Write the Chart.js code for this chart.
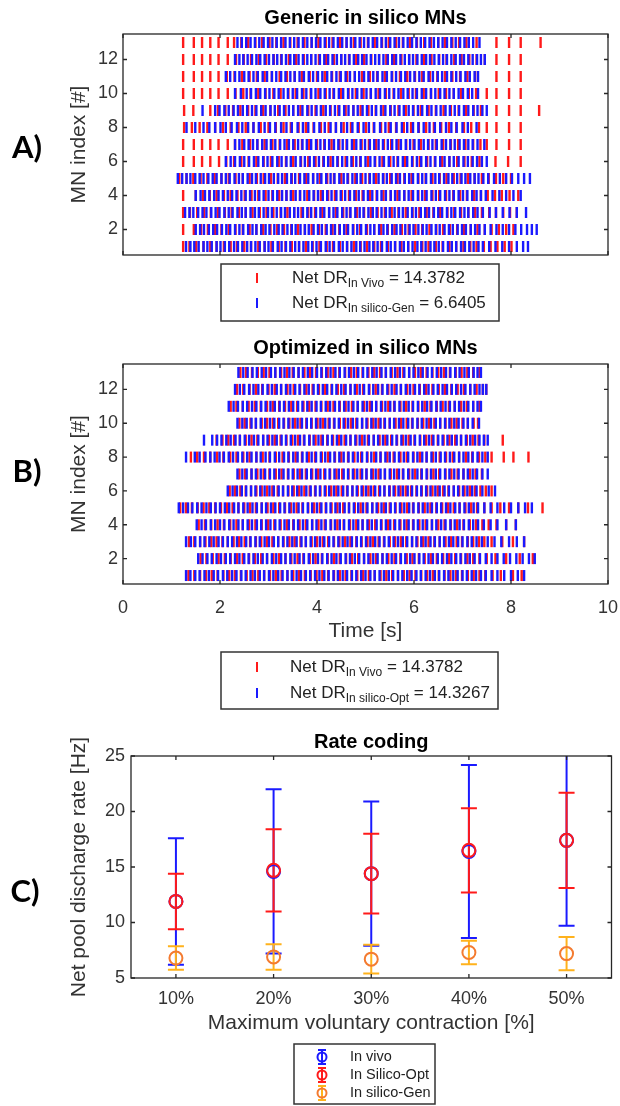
<!DOCTYPE html>
<html lang="en">
<head>
<meta charset="UTF-8">
<title>MN discharge raster and rate coding</title>
<script src="https://cdn.jsdelivr.net/npm/chart.js@4/dist/chart.umd.min.js"></script>
<style>
  body { margin: 0; background: #fff; width: 620px; height: 1106px; position: relative; overflow: hidden; }
  canvas { position: absolute; left: 0; }
</style>
</head>
<body>
<canvas id="chartA" width="620" height="330" style="top:0"></canvas>
<canvas id="chartB" width="620" height="390" style="top:330px"></canvas>
<canvas id="chartC" width="620" height="386" style="top:720px"></canvas>

<script>
// ---- data ----
const mnIndex = [1,2,3,4,5,6,7,8,9,10,11,12,13];
const mnTicks = [2,4,6,8,10,12];
const timeTicks = [0,2,4,6,8,10];

// spike times in centiseconds, one list per MN (MN 1 first)
// panel A: in vivo (red)
const genVivo = [
  [124,137,151,166,180,193,208,222,235,250,264,279,292,306,321,335,348,363,377,391,405,420,433,447,462,476,490,503,518,532,546,561,574,588,602,617,630,645,659,673,687,702,716,729,744,758,772,787,801],
  [124,146,161,175,190,203,218,232,247,261,275,289,304,318,332,347,361,375,389,404,418,432,446,461,475,489,503,518,532,546,560,575,589,603,617,632,646,660,674,689,703,717,731,746,760,775,790,805],
  [124,138,153,167,181,196,210,224,239,253,267,282,296,310,325,339,353,368,382,396,411,425,439,454,468,482,497,511,525,540,554,568,583,597,611,626,640,654,669,683,697,712,726,740,755,769,784,798,812],
  [124,150,165,179,193,208,222,236,251,265,279,294,308,322,337,351,365,380,394,408,423,437,451,466,480,494,509,523,537,552,566,580,595,609,623,638,652,666,681,695,709,724,738,752,767,781,797,815],
  [116,131,145,160,174,189,203,218,232,247,261,276,290,305,319,334,348,363,377,392,406,421,435,450,464,479,493,508,522,537,551,566,580,595,609,624,638,653,667,682,696,711,725,740,754,769,784,800],
  [124,146,163,180,198,213,229,244,259,275,290,305,321,336,351,367,382,397,413,428,443,459,474,489,505,520,535,551,566,581,597,612,627,643,658,673,689,704,719,735,768,794,820],
  [124,146,163,180,197,216,231,246,262,277,292,308,323,338,354,369,384,400,415,430,446,461,476,492,507,522,538,553,568,584,599,614,630,645,660,676,691,706,722,737,750,770,796,820],
  [126,142,158,174,190,206,222,238,253,269,284,300,315,331,346,362,377,393,408,424,439,455,470,486,501,517,532,548,563,579,594,610,625,641,656,672,687,703,718,734,750,770,796,820],
  [126,145,180,196,211,227,242,258,273,289,304,320,335,351,366,382,397,413,428,444,459,475,490,506,521,537,552,568,583,599,614,630,645,661,676,692,707,723,738,770,796,820,858],
  [124,146,163,180,197,216,232,248,263,279,294,310,325,341,356,372,387,403,418,434,449,465,480,496,511,527,542,558,573,589,604,620,635,651,666,682,697,713,728,750,770,796,820],
  [124,146,163,180,197,214,230,245,261,276,292,307,323,338,354,369,385,400,416,431,447,462,478,493,509,524,540,555,571,586,602,617,633,648,664,679,695,710,726,770,796,820],
  [124,146,163,180,197,216,233,249,264,280,295,311,326,342,357,373,388,404,419,435,450,466,481,497,512,528,543,559,574,590,605,621,636,652,667,683,698,714,729,746,770,796,820],
  [124,146,163,180,197,216,229,244,258,273,287,302,316,331,345,360,374,389,403,418,432,447,461,476,490,505,519,534,548,563,577,592,606,621,635,650,664,679,693,708,729,770,796,820,861]
];
// panel A: generic in silico (blue)
const genSilico = [
  [130,139,147,156,166,174,183,193,201,210,219,229,237,246,256,264,273,282,292,300,309,319,327,336,345,355,363,372,382,390,399,408,418,426,435,445,453,462,471,481,489,498,508,516,525,534,544,552,561,571,579,588,597,607,615,624,634,642,651,660,670,678,687,697,705,714,723,733,742,755,768,782,796,812,825,835],
  [150,159,167,177,186,194,204,213,221,231,240,248,258,267,275,285,294,302,312,321,329,339,348,356,366,375,383,393,402,410,420,429,437,447,456,464,474,483,491,501,510,518,528,537,545,555,564,572,582,591,599,609,618,626,636,645,653,663,672,680,690,699,707,717,726,735,746,758,770,783,796,809,821,833,843,853],
  [128,137,145,155,164,172,182,191,199,209,218,226,236,245,253,263,272,280,290,299,307,317,326,334,344,353,361,371,380,388,398,407,415,425,434,442,452,461,469,479,488,496,506,515,523,533,542,550,560,569,577,587,596,604,614,623,631,641,650,658,668,677,685,695,704,712,722,731,742,756,769,783,797,812,831],
  [150,160,169,178,188,197,206,216,225,234,244,253,262,272,281,290,300,309,318,328,337,346,356,365,374,384,393,402,412,421,430,440,449,458,468,477,486,496,505,514,524,533,542,552,561,570,580,589,598,608,617,626,636,645,654,664,673,682,692,701,710,720,729,738,748,762,776,790,805,820],
  [113,122,131,139,149,158,166,176,185,193,203,212,220,230,239,247,257,266,274,284,293,301,311,320,328,338,347,355,365,374,382,392,401,409,419,428,436,446,455,463,473,482,490,500,509,517,527,536,544,554,563,571,581,590,598,608,617,625,635,644,652,662,671,679,689,698,706,716,725,733,743,753,765,777,790,802,815,827,839],
  [212,222,231,241,250,260,270,279,289,298,308,318,327,337,346,356,366,375,385,394,404,414,423,433,442,452,462,471,481,490,500,510,519,529,538,548,558,567,577,586,596,606,615,625,634,644,654,663,673,682,692,702,711,721,730,740,750],
  [231,240,250,259,268,277,287,296,305,314,324,333,342,351,361,370,379,388,398,407,416,425,435,444,453,462,472,481,490,499,509,518,527,536,546,555,564,573,583,592,601,610,620,629,638,647,657,666,675,684,694,703,712,721,731,745],
  [131,149,166,178,190,201,212,224,235,246,258,269,280,292,303,314,326,337,348,360,371,382,394,405,416,428,439,450,462,473,484,496,507,518,530,541,552,564,575,586,598,609,620,632,643,654,666,677,688,700,711,729],
  [164,190,199,209,218,228,237,247,256,266,275,285,294,304,313,323,332,342,351,361,370,380,389,399,408,418,427,437,446,456,465,475,484,494,503,513,522,532,541,551,560,570,579,589,598,608,617,627,636,646,655,665,674,684,693,703,712,722,731,741,750],
  [231,243,255,264,274,283,293,302,312,321,331,340,350,359,369,378,388,397,407,416,426,435,445,454,464,473,483,492,502,511,521,530,540,549,559,568,578,587,597,606,616,625,635,644,654,663,673,682,692,701,711,720,732],
  [212,221,231,240,250,259,269,278,288,297,307,316,326,335,345,354,364,373,383,392,402,411,421,430,440,449,459,468,478,487,497,506,516,525,535,544,554,563,573,582,592,601,611,620,630,639,649,658,668,677,687,696,706,715,725,732],
  [231,240,248,257,266,275,283,292,301,310,318,327,336,345,353,362,371,380,388,397,406,415,423,432,441,450,458,467,476,485,493,502,511,520,528,537,546,555,563,572,581,590,598,607,616,625,633,642,651,660,668,677,686,695,703,712,721,730,738,746],
  [236,245,254,263,272,281,290,299,308,317,326,335,344,353,362,371,380,389,398,407,416,425,434,443,452,461,470,479,488,497,506,515,524,533,542,551,560,569,578,587,596,605,614,623,632,641,650,659,668,677,686,695,704,713,722,735]
];
// panel B: in vivo (red)
const optVivo = [
  [135,147,159,171,183,195,207,219,231,243,255,267,279,291,303,315,327,339,351,363,375,387,399,411,423,435,447,459,471,483,495,507,519,531,543,555,567,579,591,603,615,627,639,651,663,675,687,699,711,723,735,747,762,779,804,822],
  [160,172,185,197,210,222,235,247,260,272,285,297,310,322,335,347,360,372,385,397,410,422,435,447,460,472,485,497,510,522,535,547,560,572,585,597,610,622,635,647,660,672,685,697,710,722,735,750,768,790,818,845],
  [136,147,159,170,182,193,205,216,228,239,251,262,274,285,297,308,320,331,343,354,366,377,389,400,412,423,435,446,458,469,481,492,504,515,527,538,550,561,573,584,596,607,619,630,642,653,665,676,688,699,711,722,734,745,760,782,804,827],
  [156,169,182,195,208,221,234,247,260,273,286,299,312,325,338,351,364,377,390,403,416,429,442,455,468,481,494,507,520,533,546,559,572,585,598,611,624,637,650,663,676,689,702,715,728,741,754,770,790,810],
  [118,130,142,154,166,178,190,202,214,226,238,250,262,274,286,298,310,322,334,346,358,370,382,394,406,418,430,442,454,466,478,490,502,514,526,538,550,562,574,586,598,610,622,634,646,658,670,682,694,706,718,730,745,760,778,796,815,835,865],
  [220,231,242,253,264,275,286,297,308,319,330,341,352,363,374,385,396,407,418,429,440,451,462,473,484,495,506,517,528,539,550,561,572,583,594,605,616,627,638,649,660,671,682,693,704,715,726,737,748,760],
  [240,252,265,277,290,302,315,327,340,352,365,377,390,402,415,427,440,452,465,477,490,502,515,527,540,552,565,577,590,602,615,627,640,652,665,677,690,702,715,727,740],
  [140,153,167,180,194,207,221,234,248,261,275,288,302,315,329,342,356,369,383,396,410,423,437,450,464,477,491,504,518,531,545,558,572,585,599,612,626,639,653,666,680,693,707,720,734,747,760,785,805,836],
  [193,205,217,229,241,253,265,277,289,301,313,325,337,349,361,373,385,397,409,421,433,445,457,469,481,493,505,517,529,541,553,565,577,589,601,613,625,637,649,661,673,685,697,709,721,733,745,783],
  [240,251,263,274,286,297,309,320,332,343,355,366,378,389,401,412,424,435,447,458,470,481,493,504,516,527,539,550,562,573,585,596,608,619,631,642,654,665,677,688,700,711,723,732],
  [222,234,247,259,272,284,297,309,322,334,347,359,372,384,397,409,422,434,447,459,472,484,497,509,522,534,547,559,572,584,597,609,622,634,647,659,672,684,697,709,722,735],
  [235,248,261,274,287,300,313,326,339,352,365,378,391,404,417,430,443,456,469,482,495,508,521,534,547,560,573,586,599,612,625,638,651,664,677,690,703,716,729,742,749],
  [242,254,266,278,290,302,314,326,338,350,362,374,386,398,410,422,434,446,458,470,482,494,506,518,530,542,554,566,578,590,602,614,626,638,650,662,674,686,698,710,722,735]
];
// panel B: optimized in silico (blue)
const optSilico = [
  [130,139,149,158,168,177,187,196,206,215,225,234,244,253,263,272,282,291,301,310,320,329,339,348,358,367,377,386,396,405,415,424,434,443,453,462,472,481,491,500,510,519,529,538,548,557,567,576,586,595,605,614,624,633,643,652,662,671,681,690,700,709,719,728,738,748,760,772,786,800,814,827],
  [155,164,174,183,193,202,212,221,231,240,250,259,269,278,288,297,307,316,326,335,345,354,364,373,383,392,402,411,421,430,440,449,459,468,478,487,497,506,516,525,535,544,554,563,573,582,592,601,611,620,630,639,649,658,668,677,687,696,706,715,725,736,748,760,772,785,798,811,824,837,849],
  [130,140,149,159,168,178,187,197,206,216,225,235,244,254,263,273,282,292,301,311,320,330,339,349,358,368,377,387,396,406,415,425,434,444,453,463,472,482,491,501,510,520,529,539,548,558,567,577,586,596,605,615,624,634,643,653,662,672,681,691,700,710,719,729,740,752,766,780,796,812,827],
  [152,162,171,181,190,200,209,219,228,238,247,257,266,276,285,295,304,314,323,333,342,352,361,371,380,390,399,409,418,428,437,447,456,466,475,485,494,504,513,523,532,542,551,561,570,580,589,599,608,618,627,637,646,656,665,675,684,694,703,713,722,732,744,758,772,790,810],
  [115,124,134,143,153,162,172,181,191,200,210,219,229,238,248,257,267,276,286,295,305,314,324,333,343,352,362,371,381,390,400,409,419,428,438,447,457,466,476,485,495,504,514,523,533,542,552,561,571,580,590,599,609,618,628,637,647,656,666,675,685,694,704,713,723,732,745,758,772,786,800,815,829,843],
  [216,226,235,245,254,264,273,283,292,302,311,321,330,340,349,359,368,378,387,397,406,416,425,435,444,454,463,473,482,492,501,511,520,530,539,549,558,568,577,587,596,606,615,625,634,644,653,663,672,682,691,701,710,720,729,741,754,767],
  [236,246,255,265,274,284,293,303,312,322,331,341,350,360,369,379,388,398,407,417,426,436,445,455,464,474,483,493,502,512,521,531,540,550,559,569,578,588,597,607,616,626,635,645,654,664,673,683,692,702,711,721,730,741,752],
  [130,148,158,170,180,189,199,208,218,227,237,246,256,265,275,284,294,303,313,322,332,341,351,360,370,379,389,398,408,417,427,436,446,455,465,474,484,493,503,512,522,531,541,550,560,569,579,588,598,607,617,626,636,645,655,664,674,683,693,702,712,721,731,741,752],
  [167,184,194,203,213,222,232,241,251,260,270,279,289,298,308,317,327,336,346,355,365,374,384,393,403,412,422,431,441,450,460,469,479,488,498,507,517,526,536,545,555,564,574,583,593,602,612,621,631,640,650,659,669,678,688,697,707,716,726,735,744,752],
  [236,246,255,265,274,284,293,303,312,322,331,341,350,360,369,379,388,398,407,417,426,436,445,455,464,474,483,493,502,512,521,531,540,550,559,569,578,588,597,607,616,626,635,645,654,664,673,683,692,702,711,721,734],
  [218,228,237,247,256,266,275,285,294,304,313,323,332,342,351,361,370,380,389,399,408,418,427,437,446,456,465,475,484,494,503,513,522,532,541,551,560,570,579,589,598,608,617,627,636,646,655,665,674,684,693,703,712,722,731,738],
  [231,241,250,260,269,279,288,298,307,317,326,336,345,355,364,374,383,393,402,412,421,431,440,450,459,469,478,488,497,507,516,526,535,545,554,564,573,583,592,602,611,621,630,640,649,659,668,678,687,697,706,716,725,735,742,749],
  [238,248,257,267,276,286,295,305,314,324,333,343,352,362,371,381,390,400,409,419,428,438,447,457,466,476,485,495,504,514,523,533,542,552,561,571,580,590,599,609,618,628,637,647,656,666,675,685,694,704,713,723,731,738]
];

// panel C: rate coding
const mvcLabels = ['10%','20%','30%','40%','50%'];
const mvcPos = [1,2,3,4,5];
const rateTicks = [5,10,15,20,25];
const vivoMean = [11.9, 14.6, 14.4, 16.4, 17.4];
const vivoSd   = [5.7, 7.4, 6.5, 7.8, 7.7];
const optMean  = [11.9, 14.7, 14.4, 16.5, 17.4];
const optSd    = [2.5, 3.7, 3.6, 3.8, 4.3];
const genMean  = [6.8, 6.9, 6.7, 7.3, 7.2];
const genSd    = [1.05, 1.15, 1.3, 1.05, 1.5];

// ---- drawing helpers ----
Chart.defaults.font.family = "'Liberation Sans', Arial, sans-serif";
Chart.defaults.color = '#333';
Chart.defaults.animation = false;
Chart.defaults.events = [];

const RED = '#ff1a1a', BLUE = '#1a1aff';
const ORANGE = '#f47b30', AMBER = '#ffb21c';

function spikePoints(rows) {
  const pts = [];
  rows.forEach((times, i) => times.forEach(t => pts.push({x: t / 100, y: mnIndex[i]})));
  return pts;
}

// box with inward ticks, MATLAB style
const framePlugin = {
  id: 'frame',
  afterDraw(chart, args, o) {
    const {ctx, chartArea: a, scales: {x, y}} = chart;
    ctx.save();
    ctx.strokeStyle = '#262626';
    ctx.lineWidth = 1.3;
    ctx.beginPath();
    o.xTicks.forEach(v => {
      const px = x.getPixelForValue(v);
      ctx.moveTo(px, a.bottom); ctx.lineTo(px, a.bottom - 4);
      ctx.moveTo(px, a.top); ctx.lineTo(px, a.top + 4);
    });
    o.yTicks.forEach(v => {
      const py = y.getPixelForValue(v);
      ctx.moveTo(a.left, py); ctx.lineTo(a.left + 4, py);
      ctx.moveTo(a.right, py); ctx.lineTo(a.right - 4, py);
    });
    ctx.stroke();
    ctx.strokeRect(a.left, a.top, a.right - a.left, a.bottom - a.top);
    ctx.restore();
  }
};

// mean +/- sd bars drawn under the circles
const errorBarPlugin = {
  id: 'errorBars',
  beforeDatasetsDraw(chart) {
    const {ctx, chartArea: a, scales: {x, y}} = chart;
    ctx.save();
    ctx.beginPath();
    ctx.rect(a.left, a.top, a.right - a.left, a.bottom - a.top);
    ctx.clip();
    ctx.lineWidth = 2;
    chart.data.datasets.forEach(ds => {
      ctx.strokeStyle = ds.barColor;
      ds.data.forEach((p, i) => {
        const px = x.getPixelForValue(p.x);
        const top = y.getPixelForValue(p.y + ds.sd[i]);
        const bot = y.getPixelForValue(p.y - ds.sd[i]);
        ctx.beginPath();
        ctx.moveTo(px, top); ctx.lineTo(px, bot);
        ctx.moveTo(px - 8, top); ctx.lineTo(px + 8, top);
        ctx.moveTo(px - 8, bot); ctx.lineTo(px + 8, bot);
        ctx.stroke();
      });
    });
    ctx.restore();
  }
};

// title over the plot box, panel letter and boxed legend
const decorPlugin = {
  id: 'decor',
  afterDraw(chart, args, o) {
    const {ctx, chartArea: a} = chart;
    ctx.save();
    ctx.fillStyle = '#000';
    ctx.textAlign = 'center';
    ctx.textBaseline = 'middle';
    ctx.font = 'bold 20px "Liberation Sans", Arial';
    ctx.fillText(o.title.text, (a.left + a.right) / 2, o.title.y);
    ctx.font = 'bold 31px Lato, sans-serif';
    ctx.fillText(o.letter.text, o.letter.x, o.letter.y);

    const L = o.legend;
    ctx.strokeStyle = '#333';
    ctx.lineWidth = 1.5;
    ctx.fillStyle = '#fff';
    ctx.fillRect(L.x, L.y, L.w, L.h);
    ctx.strokeRect(L.x, L.y, L.w, L.h);
    ctx.textAlign = 'left';
    L.items.forEach((it, i) => {
      const cy = L.y + L.first + i * L.gap;
      ctx.lineWidth = 2;
      if (it.errorGlyph) {
        ctx.strokeStyle = it.barColor;
        ctx.beginPath();
        ctx.moveTo(L.mx, cy - 7); ctx.lineTo(L.mx, cy + 7);
        ctx.moveTo(L.mx - 4, cy - 7); ctx.lineTo(L.mx + 4, cy - 7);
        ctx.moveTo(L.mx - 4, cy + 7); ctx.lineTo(L.mx + 4, cy + 7);
        ctx.stroke();
        ctx.strokeStyle = it.color;
        ctx.beginPath();
        ctx.arc(L.mx, cy, 4.5, 0, Math.PI * 2);
        ctx.stroke();
      } else {
        ctx.strokeStyle = it.color;
        ctx.beginPath();
        ctx.moveTo(L.mx, cy - 5); ctx.lineTo(L.mx, cy + 5);
        ctx.stroke();
      }
      ctx.fillStyle = '#222';
      let tx = L.tx;
      ctx.font = L.font;
      ctx.fillText(it.main, tx, cy);
      tx += ctx.measureText(it.main).width;
      if (it.sub) {
        ctx.font = L.subFont;
        ctx.fillText(it.sub, tx, cy + 6);
        tx += ctx.measureText(it.sub).width;
        ctx.font = L.font;
        ctx.fillText(it.tail, tx, cy);
      }
    });
    ctx.restore();
  }
};

function axisBase() {
  return {
    grid: {display: false, drawTicks: false},
    border: {display: false},
    ticks: {font: {size: 18}, color: '#333'}
  };
}

function rasterChart(id, title, vivoRows, silicoRows, showTime, letter, legend, bottomPad) {
  return new Chart(document.getElementById(id), {
    type: 'scatter',
    data: {
      datasets: [
        {label: 'In silico', data: spikePoints(silicoRows), order: 0,
         pointStyle: 'line', rotation: 90, radius: 5.5, borderWidth: 2.4,
         borderColor: BLUE, backgroundColor: BLUE},
        {label: 'In vivo', data: spikePoints(vivoRows), order: 1,
         pointStyle: 'line', rotation: 90, radius: 5.5, borderWidth: 2.4,
         borderColor: RED, backgroundColor: RED}
      ]
    },
    options: {
      responsive: false,
      layout: {padding: {left: 0, right: 12, top: 34, bottom: bottomPad}},
      plugins: {
        legend: {display: false},
        tooltip: {enabled: false},
        title: {display: false},
        frame: {xTicks: timeTicks, yTicks: mnTicks},
        decor: {title: {text: title, y: 18}, letter, legend}
      },
      scales: {
        x: Object.assign(axisBase(), {
          type: 'linear', min: 0, max: 10, display: showTime,
          afterBuildTicks: s => { s.ticks = timeTicks.map(v => ({value: v})); },
          afterFit: s => {
            if (showTime) s.height = 60;
            s.paddingLeft = 0; s.paddingRight = 0;
          },
          ticks: {font: {size: 18}, color: '#333', padding: 13},
          title: {display: showTime, text: 'Time [s]', font: {size: 21}, color: '#333', padding: 0}
        }),
        y: Object.assign(axisBase(), {
          min: 0.5, max: 13.5,
          afterBuildTicks: s => { s.ticks = mnTicks.map(v => ({value: v})); },
          afterFit: s => { s.width = 123; },
          ticks: {font: {size: 18}, color: '#333', padding: 5},
          title: {display: true, text: 'MN index [#]', font: {size: 21}, color: '#333',
                  padding: {top: 67, bottom: 0}}
        })
      }
    },
    plugins: [framePlugin, decorPlugin]
  });
}

const legendFont = '17px "Liberation Sans", Arial';
const legendSub = '12px "Liberation Sans", Arial';

rasterChart('chartA', 'Generic in silico MNs', genVivo, genSilico, false,
  {text: 'A)', x: 27, y: 148},
  {x: 221, y: 264, w: 278, h: 57, first: 14, gap: 25, mx: 257, tx: 292,
   font: legendFont, subFont: legendSub,
   items: [
     {color: RED, main: 'Net DR', sub: 'In Vivo', tail: ' = 14.3782'},
     {color: BLUE, main: 'Net DR', sub: 'In silico-Gen', tail: ' = 6.6405'}
   ]},
  75);

rasterChart('chartB', 'Optimized in silico MNs', optVivo, optSilico, true,
  {text: 'B)', x: 27, y: 142},
  {x: 221, y: 322, w: 277, h: 57, first: 15, gap: 26, mx: 257, tx: 290,
   font: legendFont, subFont: legendSub,
   items: [
     {color: RED, main: 'Net DR', sub: 'In Vivo', tail: ' = 14.3782'},
     {color: BLUE, main: 'Net DR', sub: 'In silico-Opt', tail: ' = 14.3267'}
   ]},
  76);

function rateSet(label, mean, sd, color, barColor, order) {
  return {
    label, order, sd, barColor,
    data: mvcPos.map((x, i) => ({x, y: mean[i]})),
    pointStyle: 'circle', radius: 6.5, borderWidth: 2,
    borderColor: color, backgroundColor: 'rgba(0,0,0,0)'
  };
}

new Chart(document.getElementById('chartC'), {
  type: 'scatter',
  data: {
    datasets: [
      rateSet('In vivo', vivoMean, vivoSd, BLUE, BLUE, 2),
      rateSet('In Silico-Opt', optMean, optSd, RED, RED, 1),
      rateSet('In silico-Gen', genMean, genSd, ORANGE, AMBER, 0)
    ]
  },
  options: {
    responsive: false,
    layout: {padding: {left: 0, right: 8, top: 36, bottom: 70}},
    plugins: {
      legend: {display: false},
      tooltip: {enabled: false},
      title: {display: false},
      frame: {xTicks: mvcPos, yTicks: rateTicks},
      decor: {
        title: {text: 'Rate coding', y: 22},
        letter: {text: 'C)', x: 25, y: 172},
        legend: {x: 294, y: 324, w: 141, h: 60, first: 13, gap: 18, mx: 322, tx: 350,
                 font: '14.5px "Liberation Sans", Arial', subFont: '10px "Liberation Sans", Arial',
                 items: [
                   {errorGlyph: true, color: BLUE, barColor: BLUE, main: 'In vivo'},
                   {errorGlyph: true, color: RED, barColor: RED, main: 'In Silico-Opt'},
                   {errorGlyph: true, color: ORANGE, barColor: AMBER, main: 'In silico-Gen'}
                 ]}
      }
    },
    scales: {
      x: Object.assign(axisBase(), {
        type: 'linear', min: 0.54, max: 5.46,
        afterBuildTicks: s => { s.ticks = mvcPos.map(v => ({value: v})); },
        afterFit: s => { s.height = 58; },
        ticks: {font: {size: 18}, color: '#333', padding: 10, callback: v => mvcLabels[v - 1]},
        title: {display: true, text: 'Maximum voluntary contraction [%]', font: {size: 21}, color: '#333', padding: 0}
      }),
      y: Object.assign(axisBase(), {
        min: 5, max: 25,
        afterBuildTicks: s => { s.ticks = rateTicks.map(v => ({value: v})); },
        afterFit: s => { s.width = 131; },
        ticks: {font: {size: 18}, color: '#333', padding: 6},
        title: {display: true, text: 'Net pool discharge rate [Hz]', font: {size: 21}, color: '#333',
                padding: {top: 67, bottom: 0}}
      })
    }
  },
  plugins: [framePlugin, errorBarPlugin, decorPlugin]
});
</script>
</body>
</html>
